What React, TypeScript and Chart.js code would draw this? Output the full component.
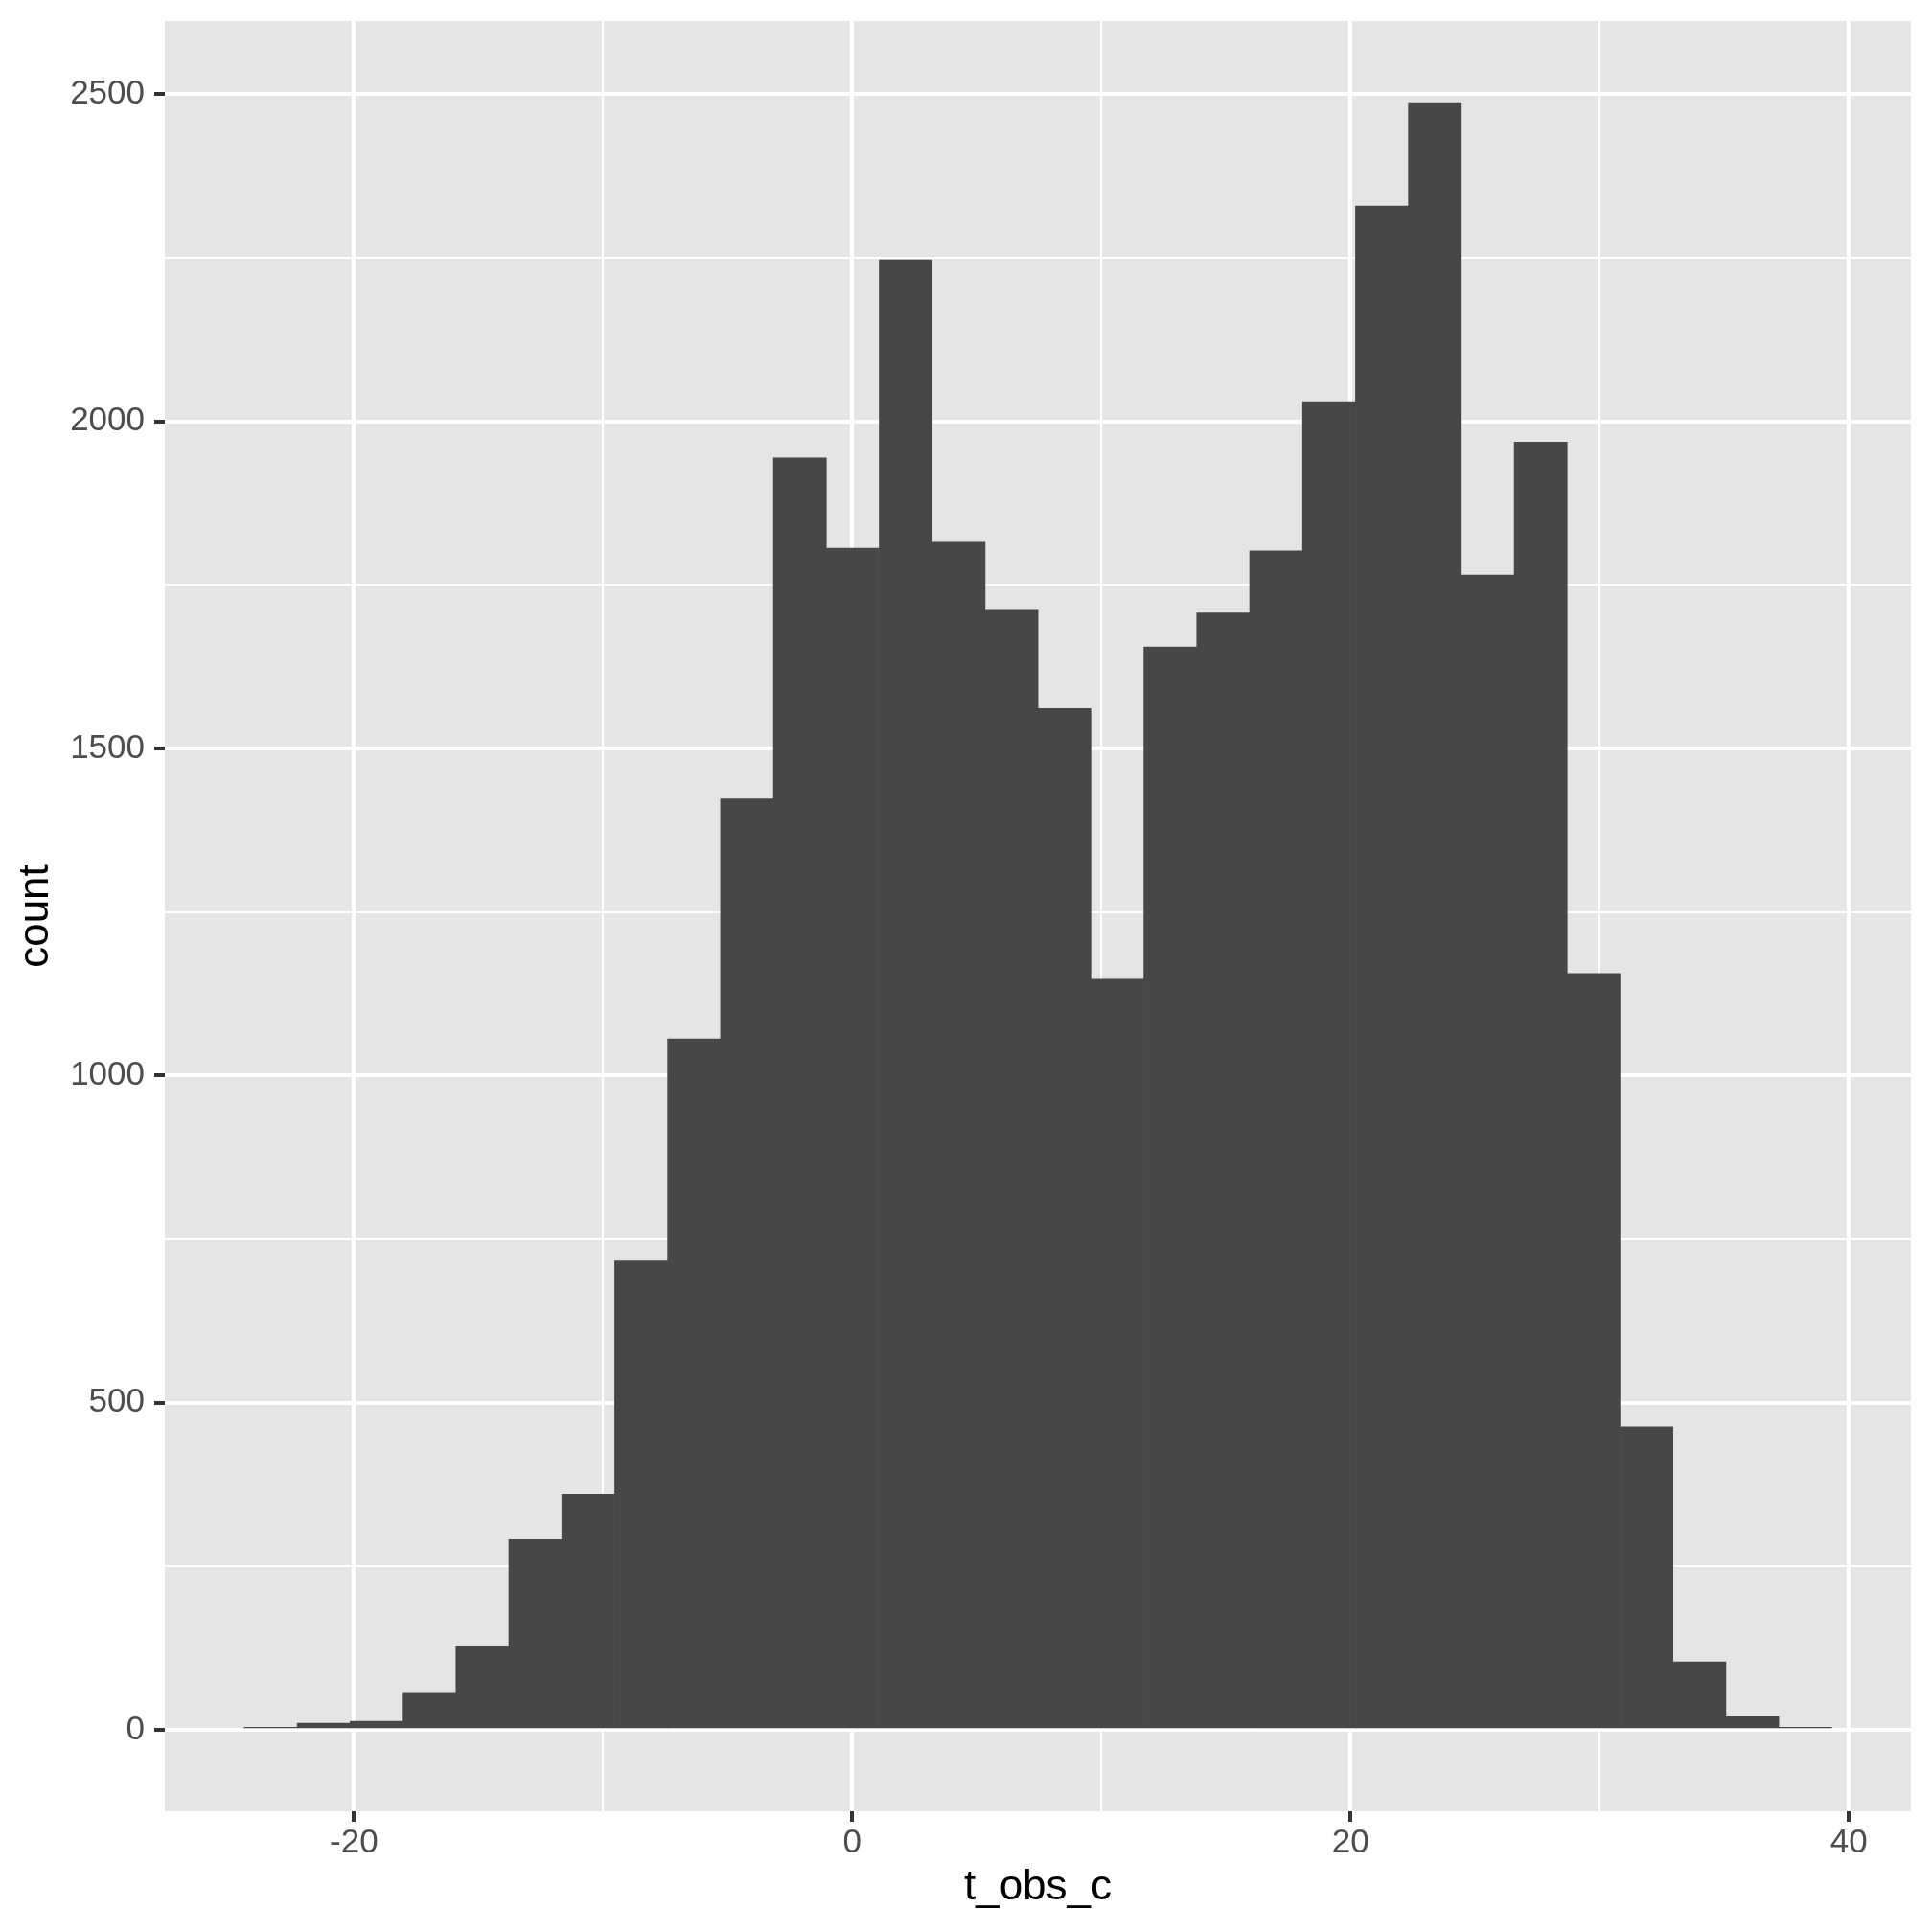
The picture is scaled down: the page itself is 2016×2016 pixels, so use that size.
import React, { useEffect, useRef } from 'react';
import { Chart, registerables } from 'chart.js';

Chart.register(...registerables);

// Histogram bins (centres of 30 equal-width bins) and their counts
const BIN_CENTERS = [
  -23.338, -21.215, -19.091, -16.967, -14.844, -12.720, -10.596, -8.472, -6.349, -4.225,
  -2.101, 0.022, 2.146, 4.270, 6.394, 8.517, 10.641, 12.765, 14.888, 17.012,
  19.136, 21.260, 23.383, 25.507, 27.631, 29.754, 31.878, 34.002, 36.126, 38.249,
];
const COUNTS = [
  4, 10, 13, 56, 127, 291, 360, 717, 1056, 1423,
  1944, 1806, 2247, 1815, 1711, 1561, 1147, 1655, 1707, 1802,
  2030, 2329, 2487, 1765, 1968, 1156, 463, 104, 20, 4,
];

const X_TICKS = [-20, -10, 0, 10, 20, 30, 40];
const X_LABELED = [-20, 0, 20, 40];
const Y_TICKS = [0, 250, 500, 750, 1000, 1250, 1500, 1750, 2000, 2250, 2500];
const Y_LABELED = [0, 500, 1000, 1500, 2000, 2500];
const X_RANGE = [-27.59, 42.49];
const Y_RANGE = [-124.5, 2611.7];
const X_TITLE = 't_obs_c';
const Y_TITLE = 'count';

const PANEL_BG = '#E5E5E5';
const BAR_FILL = '#474747';
const FONT = 'Liberation Sans, Arial, Helvetica, sans-serif';

const panelBg = {
  id: 'panelBg',
  beforeDraw(chart: any) {
    const { ctx, chartArea } = chart;
    ctx.save();
    ctx.fillStyle = PANEL_BG;
    ctx.fillRect(chartArea.left, chartArea.top, chartArea.right - chartArea.left, chartArea.bottom - chartArea.top);
    ctx.restore();
  },
};

const noPad = (scale: any) => {
  scale.paddingTop = 0;
  scale.paddingBottom = 0;
  scale.paddingLeft = 0;
  scale.paddingRight = 0;
};

export default function App() {
  const ref = useRef<HTMLCanvasElement | null>(null);

  useEffect(() => {
    if (!ref.current) return;
    const major = (list: number[]) => (ctx: any) => ctx.tick && list.includes(ctx.tick.value);
    const xMajor = major(X_LABELED);
    const yMajor = major(Y_LABELED);

    const chart = new Chart(ref.current, {
      type: 'bar',
      data: {
        datasets: [
          {
            data: BIN_CENTERS.map((x, i) => ({ x, y: COUNTS[i] })),
            backgroundColor: BAR_FILL,
            borderWidth: 0,
            barPercentage: 1,
            categoryPercentage: 1,
          },
        ],
      },
      options: {
        animation: false,
        responsive: false,
        devicePixelRatio: 1,
        layout: { padding: { top: 22, right: 22, left: 0, bottom: 0 } },
        plugins: { legend: { display: false }, tooltip: { enabled: false } },
        scales: {
          x: {
            type: 'linear',
            position: 'bottom',
            min: X_RANGE[0],
            max: X_RANGE[1],
            offset: false,
            afterBuildTicks: (scale: any) => {
              scale.ticks = X_TICKS.map((v) => ({ value: v }));
            },
            afterFit: (scale: any) => {
              scale.height = 126;
              noPad(scale);
            },
            border: { display: false },
            grid: {
              offset: false,
              color: '#FFFFFF',
              lineWidth: (ctx: any) => (xMajor(ctx) ? 4 : 2),
              drawTicks: true,
              tickLength: 11,
              tickColor: (ctx: any) => (xMajor(ctx) ? '#333333' : 'rgba(0,0,0,0)'),
              tickWidth: (ctx: any) => (xMajor(ctx) ? 4 : 1),
            },
            ticks: {
              autoSkip: false,
              maxRotation: 0,
              padding: 1,
              color: '#4D4D4D',
              font: { family: FONT, size: 35 },
              callback: (v: any) => (X_LABELED.includes(Number(v)) ? String(v) : ''),
            },
            title: {
              display: true,
              text: X_TITLE,
              color: '#000000',
              font: { family: FONT, size: 44 },
              padding: { top: 0, bottom: 19.8 },
            },
          },
          y: {
            type: 'linear',
            position: 'left',
            min: Y_RANGE[0],
            max: Y_RANGE[1],
            afterBuildTicks: (scale: any) => {
              scale.ticks = Y_TICKS.map((v) => ({ value: v }));
            },
            afterFit: (scale: any) => {
              scale.width = 172;
              noPad(scale);
            },
            border: { display: false },
            grid: {
              offset: false,
              color: '#FFFFFF',
              lineWidth: (ctx: any) => (yMajor(ctx) ? 4 : 2),
              drawTicks: true,
              tickLength: 11,
              tickColor: (ctx: any) => (yMajor(ctx) ? '#333333' : 'rgba(0,0,0,0)'),
              tickWidth: (ctx: any) => (yMajor(ctx) ? 4 : 1),
            },
            ticks: {
              autoSkip: false,
              padding: 10,
              color: '#4D4D4D',
              font: { family: FONT, size: 35 },
              callback: (v: any) => (Y_LABELED.includes(Number(v)) ? String(v) : ''),
            },
            title: {
              display: true,
              text: Y_TITLE,
              color: '#000000',
              font: { family: FONT, size: 44 },
              padding: { top: 11.7, bottom: 0 },
            },
          },
        },
      },
      plugins: [panelBg],
    } as any);

    return () => chart.destroy();
  }, []);

  return (
    <canvas
      ref={ref}
      width={2016}
      height={2016}
      style={{ position: 'absolute', left: 0, top: 0, width: 2016, height: 2016, display: 'block', background: '#FFFFFF' }}
    />
  );
}
